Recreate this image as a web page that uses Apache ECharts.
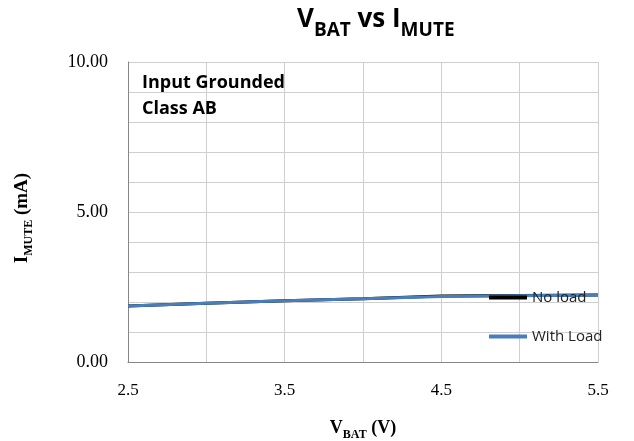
<!DOCTYPE html>
<html><head><meta charset="utf-8">
<script src="https://cdn.jsdelivr.net/npm/echarts@6/dist/echarts.min.js"></script>
<style>html,body{margin:0;padding:0;background:#fff}#c{width:634px;height:441px}</style>
</head><body><div id="c"></div>
<script>
const vbat = [2.5, 3.0, 3.5, 4.0, 4.5, 5.0, 5.5];
const noLoad = [1.87, 1.96, 2.04, 2.11, 2.20, 2.22, 2.23];
const withLoad = [1.87, 1.96, 2.04, 2.11, 2.18, 2.21, 2.23];
const seriesNames = ['No load', 'With Load'];
const yLabelsShown = [0, 5, 10];
const xLabelsShown = [2.5, 3.5, 4.5, 5.5];

const chart = echarts.init(document.getElementById('c'));
const sans = 'Open Sans';
const serif = 'Liberation Serif';
chart.setOption({
  animation: false,
  title: {
    text: '{a|V}{b|BAT}{a| vs I}{b|MUTE}',
    left: 292, top: 2,
    textStyle: {
      rich: {
        a: { fontFamily: sans, fontWeight: 'bold', fontSize: 26, color: '#000', lineHeight: 32, verticalAlign: 'top' },
        b: { fontFamily: sans, fontWeight: 'bold', fontSize: 19, color: '#000', lineHeight: 33, verticalAlign: 'bottom' }
      }
    }
  },
  grid: { left: 128, right: 36, top: 62, bottom: 79, containLabel: false, outerBoundsMode: 'none' },
  legend: {
    orient: 'vertical', left: 484, top: 285, itemGap: 24,
    itemWidth: 38, itemHeight: 4, icon: 'rect',
    textStyle: { fontFamily: sans, fontSize: 15, color: '#222' },
    data: seriesNames
  },
  xAxis: {
    type: 'value', min: 2.5, max: 5.5, interval: 0.5,
    name: '{a|V}{b|BAT}{a| (V)}', nameLocation: 'middle', nameGap: 57,
    nameTextStyle: { rich: {
      a: { fontFamily: serif, fontWeight: 'bold', fontSize: 18, color: '#000', lineHeight: 20, verticalAlign: 'top' },
      b: { fontFamily: serif, fontWeight: 'bold', fontSize: 12, color: '#000', lineHeight: 22, verticalAlign: 'bottom' }
    }},
    axisLine: { show: true, lineStyle: { color: '#868686', width: 1 } },
    axisTick: { show: false },
    axisLabel: { margin: 20, fontFamily: serif, fontSize: 17, color: '#000',
      formatter: v => xLabelsShown.some(x => Math.abs(x - v) < 1e-6) ? v.toFixed(1) : '' },
    splitLine: { show: true, lineStyle: { color: '#cfcfcf', width: 1 } }
  },
  yAxis: {
    type: 'value', min: 0, max: 10, interval: 1,
    name: '{a|I}{b|MUTE}{a| (mA)}', nameLocation: 'middle', nameGap: 93, nameRotate: 90,
    nameTextStyle: { padding: [0, 12, 0, 0], rich: {
      a: { fontFamily: serif, fontWeight: 'bold', fontSize: 19, color: '#000', lineHeight: 20, verticalAlign: 'top' },
      b: { fontFamily: serif, fontWeight: 'bold', fontSize: 12, color: '#000', lineHeight: 22, verticalAlign: 'bottom' }
    }},
    axisLine: { show: true, lineStyle: { color: '#868686', width: 1 } },
    axisTick: { show: false },
    axisLabel: { margin: 20, fontFamily: serif, fontSize: 18, color: '#000',
      formatter: v => yLabelsShown.some(y => Math.abs(y - v) < 1e-6) ? v.toFixed(2) : '' },
    splitLine: { show: true, lineStyle: { color: '#cfcfcf', width: 1 } }
  },
  graphic: [{
    type: 'text', left: 142, top: 70, z: 10,
    style: { text: 'Input Grounded\nClass AB', font: 'bold 18px "Open Sans"', fill: '#000', lineHeight: 26 }
  }],
  series: [
    { name: seriesNames[0], type: 'line', data: vbat.map((x, i) => [x, noLoad[i]]),
      showSymbol: false, lineStyle: { color: '#000', width: 3 }, itemStyle: { color: '#000' }, z: 2 },
    { name: seriesNames[1], type: 'line', data: vbat.map((x, i) => [x, withLoad[i]]),
      showSymbol: false, lineStyle: { color: '#4a7ebb', width: 3 }, itemStyle: { color: '#4a7ebb' }, z: 3 }
  ]
});
</script></body></html>
